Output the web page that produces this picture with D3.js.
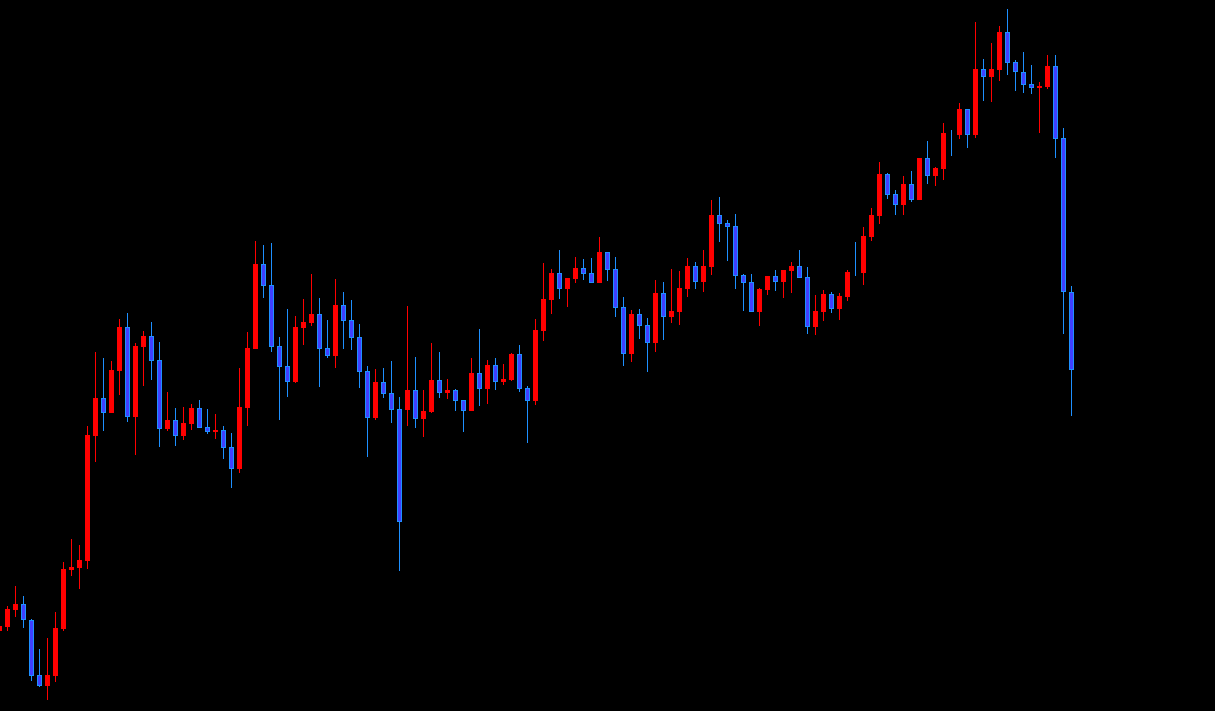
<!DOCTYPE html>
<html>
<head>
<meta charset="utf-8">
<script src="https://cdn.jsdelivr.net/npm/d3@7/dist/d3.min.js"></script>
<style>
  html, body { margin: 0; padding: 0; background: #000; overflow: hidden; }
  svg { display: block; }
</style>
</head>
<body>
<svg id="chart" width="1215" height="711"></svg>
<script>
// Bar index (oldest -1 is partially cut at the left edge)
const barIndex = d3.range(-1, 134);
const opens  = [369,373,390,396,380,325,314,324,371,430,432,439,564,602,587,629,673,583,653,664,640,571,580,564,576,592,573,568,570,553,531,592,651,736,715,654,634,618,672,677,686,652,644,695,680,663,629,582,618,607,591,590,610,581,588,620,607,610,600,589,627,611,635,618,620,646,612,599,669,700,727,711,721,732,727,717,748,731,693,646,686,675,657,707,683,688,711,734,718,733,785,777,774,725,718,688,710,724,718,729,734,723,673,688,706,691,703,728,727,763,784,826,806,795,816,800,842,824,831,867,865,891,865,931,923,930,968,938,928,916,912,913,934,862,708];
const highs  = [376,394,414,404,381,351,362,388,438,461,455,574,648,642,639,681,687,657,669,678,658,608,592,593,596,600,591,586,574,567,632,668,759,755,757,663,691,684,701,726,702,680,721,708,700,676,634,631,632,639,603,694,643,610,657,648,621,611,600,642,671,640,642,636,647,655,614,681,737,731,750,722,743,741,742,763,748,743,703,690,691,682,720,718,731,729,742,738,750,800,803,780,786,726,726,712,724,730,730,738,750,733,705,710,708,707,730,758,773,792,838,827,810,824,829,842,859,833,877,870,897,891,978,941,957,974,991,940,948,935,918,945,945,872,714];
const lows   = [368,369,383,372,319,313,300,318,369,424,411,431,538,569,587,605,578,545,614,620,553,569,554,560,570,572,566,561,541,512,527,574,651,702,648,580,603,617,655,674,613,642,632,651,650,612,543,580,602,577,429,574,572,563,587,602,601,589,568,589,594,596,610,615,619,608,557,595,659,686,701,693,717,720,717,717,719,683,634,638,661,628,648,660,677,675,703,711,708,725,758,739,711,689,688,674,705,709,702,707,722,666,665,679,687,680,699,724,715,759,776,801,785,785,798,800,816,814,820,844,861,852,862,899,898,919,925,909,907,906,867,911,842,666,584];
const closes = [374,391,396,380,324,314,325,372,431,433,440,565,602,587,630,673,583,654,664,639,571,580,564,577,592,572,568,570,552,531,593,652,736,714,653,633,618,673,678,686,651,644,695,679,662,628,582,618,606,590,478,610,581,589,620,607,610,599,589,627,611,635,618,621,646,611,599,670,701,727,711,722,732,726,717,748,730,692,646,686,674,657,707,683,689,712,734,718,734,785,776,773,724,717,688,711,724,718,730,734,722,673,689,706,691,704,728,727,764,785,826,805,795,816,800,842,824,832,867,866,891,865,931,923,931,968,937,928,915,912,914,934,861,708,630];

const upColor = "#ff0000";
const downFill = "#4040ff";
const downEdge = "#1e90ff";

const bars = barIndex.map((i, k) => ({
  i, o: opens[k], h: highs[k], l: lows[k], c: closes[k]
}));

const W = 1215, H = 711;
const svg = d3.select("#chart");
svg.append("rect").attr("width", W).attr("height", H).attr("fill", "#000");

const x = d3.scaleLinear().domain([-1, 133]).range([-0.5, 1071.5]);
const y = d3.scaleLinear().domain([289, 1000]).range([711, 0]);

const g = svg.append("g");

const candle = g.selectAll("g.candle").data(bars).enter().append("g").attr("class", "candle");

candle.append("line")
  .attr("x1", d => x(d.i)).attr("x2", d => x(d.i))
  .attr("y1", d => y(d.h)).attr("y2", d => y(d.l))
  .attr("stroke", d => d.c > d.o ? upColor : downEdge)
  .attr("stroke-width", 1)
  .attr("shape-rendering", "crispEdges");

// up bodies
candle.filter(d => d.c > d.o).append("rect")
  .attr("x", d => x(d.i) - 2.5)
  .attr("width", 5)
  .attr("y", d => y(d.c))
  .attr("height", d => Math.max(1, y(d.o) - y(d.c)))
  .attr("fill", upColor)
  .attr("shape-rendering", "crispEdges");

// down bodies
candle.filter(d => d.c <= d.o).append("rect")
  .attr("x", d => x(d.i) - 2)
  .attr("width", 4)
  .attr("y", d => y(d.o) + 0.5)
  .attr("height", d => Math.max(0, y(d.c) - y(d.o) - 1))
  .attr("fill", downFill)
  .attr("stroke", downEdge)
  .attr("stroke-width", 1)
  .attr("shape-rendering", "crispEdges");
</script>
</body>
</html>
